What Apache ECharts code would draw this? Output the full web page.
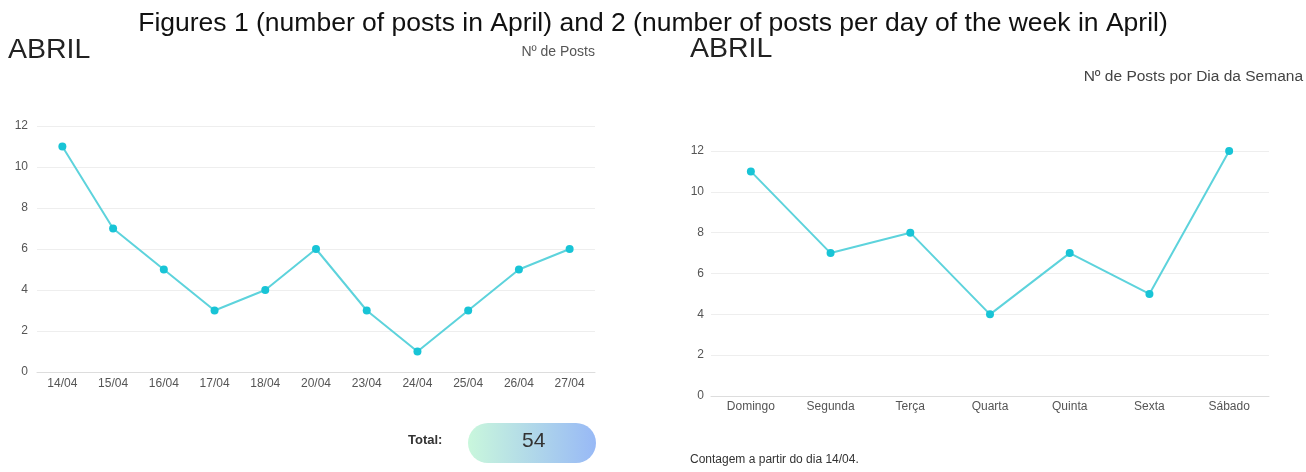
<!DOCTYPE html>
<html>
<head>
<meta charset="utf-8">
<script src="https://cdn.jsdelivr.net/npm/echarts@6/dist/echarts.min.js"></script>
<style>
  html, body { margin: 0; padding: 0; background: #fff; }
  #main { width: 1306px; height: 472px; }
</style>
</head>
<body>
<div id="main"></div>
<script>
var chartDom = document.getElementById("main");
var myChart = echarts.init(chartDom);

// figure 1: posts per day in April
var days = ['14/04', '15/04', '16/04', '17/04', '18/04', '20/04', '23/04', '24/04', '25/04', '26/04', '27/04'];
var postsPerDay = [11, 7, 5, 3, 4, 6, 3, 1, 3, 5, 6];

// figure 2: posts per weekday
var weekdays = ['Domingo', 'Segunda', 'Terça', 'Quarta', 'Quinta', 'Sexta', 'Sábado'];
var postsPerWeekday = [11, 7, 8, 4, 7, 5, 12];

var totalPosts = '54';

var font = 'Liberation Sans, Arial, sans-serif';
var lineColor = '#5dd3dc';
var dotColor = '#18c4d6';

var axisLabelStyle = {
  color: '#555',
  fontSize: 12,
  fontFamily: font
};

function yAxisFor(gridIndex, margin) {
  return {
    type: 'value',
    gridIndex: gridIndex,
    min: 0,
    max: 12,
    interval: 2,
    axisLine: { show: false },
    axisTick: { show: false },
    axisLabel: Object.assign({ margin: margin }, axisLabelStyle),
    splitLine: { lineStyle: { color: '#eeeeee', width: 1 } }
  };
}

function xAxisFor(gridIndex, data, margin) {
  return {
    type: 'category',
    gridIndex: gridIndex,
    data: data,
    boundaryGap: true,
    axisLine: { lineStyle: { color: '#dddddd' } },
    axisTick: { show: false },
    axisLabel: Object.assign({ margin: margin, interval: 0 }, axisLabelStyle)
  };
}

function lineSeries(axisIndex, data) {
  return {
    type: 'line',
    xAxisIndex: axisIndex,
    yAxisIndex: axisIndex,
    data: data,
    symbol: 'circle',
    symbolSize: 8,
    lineStyle: { color: lineColor, width: 2 },
    itemStyle: { color: dotColor },
    animation: false
  };
}

option = {
  backgroundColor: '#fff',
  grid: [
    { left: 37, top: 126, width: 558, height: 246 },
    { left: 711, top: 151, width: 558, height: 245 }
  ],
  xAxis: [xAxisFor(0, days, 6), xAxisFor(1, weekdays, 5)],
  yAxis: [yAxisFor(0, 9), yAxisFor(1, 7)],
  series: [lineSeries(0, postsPerDay), lineSeries(1, postsPerWeekday)],
  graphic: [
    {
      type: 'text', left: 'center', top: 10,
      style: { text: 'Figures 1 (number of posts in April) and 2 (number of posts per day of the week in April)', fill: '#111', font: '26.5px ' + font }
    },
    {
      type: 'text', left: 8, top: 36,
      style: { text: 'ABRIL', fill: '#222', font: '28.5px ' + font }
    },
    {
      type: 'text', right: 711, top: 45,
      style: { text: 'Nº de Posts', fill: '#555', font: '14px ' + font }
    },
    {
      type: 'text', left: 690, top: 35,
      style: { text: 'ABRIL', fill: '#222', font: '28.5px ' + font }
    },
    {
      type: 'text', right: 3, top: 69,
      style: { text: 'Nº de Posts por Dia da Semana', fill: '#444', font: '15.5px ' + font }
    },
    {
      type: 'text', left: 408, top: 434,
      style: { text: 'Total:', fill: '#333', font: 'bold 13px ' + font }
    },
    {
      type: 'rect',
      shape: { x: 468, y: 423, width: 128, height: 40, r: 20 },
      style: {
        fill: new echarts.graphic.LinearGradient(0, 0, 1, 0, [
          { offset: 0, color: '#c9f7dc' },
          { offset: 1, color: '#98b9f6' }
        ])
      }
    },
    {
      type: 'text', left: 522, top: 431,
      style: { text: totalPosts, fill: '#333', font: '21px ' + font }
    },
    {
      type: 'text', left: 690, top: 454,
      style: { text: 'Contagem a partir do dia 14/04.', fill: '#333', font: '12px ' + font }
    }
  ]
};

if (option && typeof option === "object") {
  myChart.setOption(option, true);
}
</script>
</body>
</html>
